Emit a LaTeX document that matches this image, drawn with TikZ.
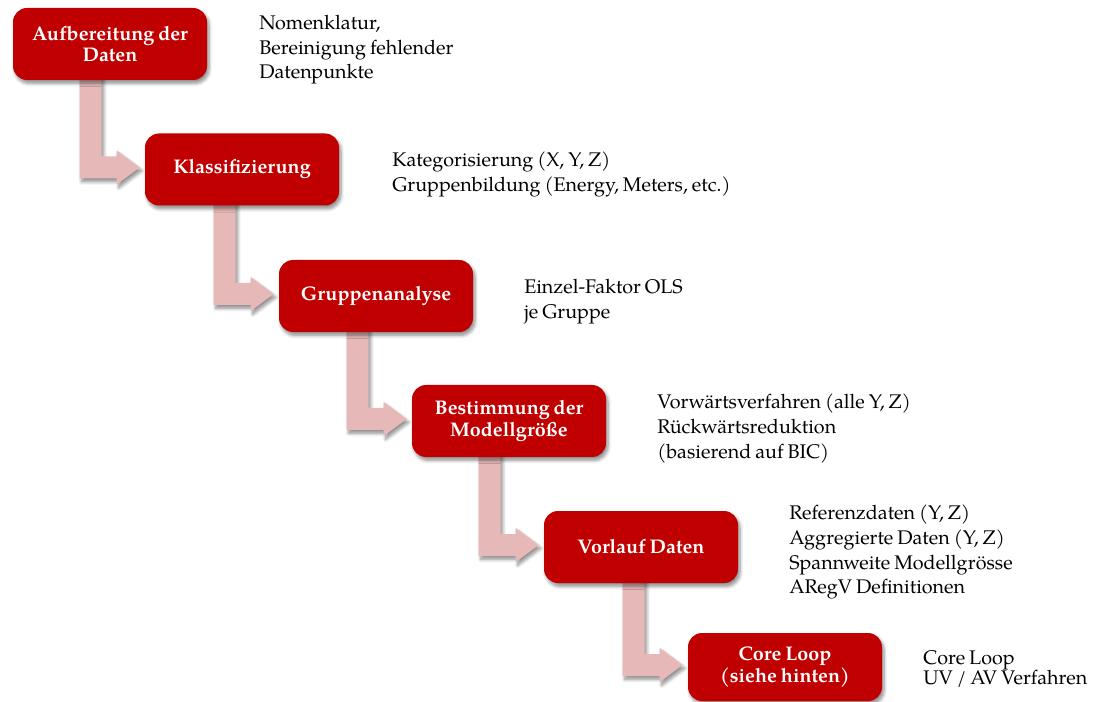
\documentclass[tikz,border=0pt]{standalone}
\usepackage{fontspec}
\setmainfont[WordSpace=0.8]{TeX Gyre Pagella}
\usetikzlibrary{calc,shadows.blur}
\definecolor{boxred}{HTML}{C00000}
\definecolor{arrowpink}{HTML}{E6B9B8}
\pgfdeclarelayer{behind}
\pgfsetlayers{behind,main}

% bent block arrow: leaves the first box downwards, turns right into the second
\newcommand\bentarrow[2]{%
  \fill[flow] let \p1=(#1.center), \p2=(#2.west) in
    (\x2-48.75pt,\y1) -- (\x2-48.75pt,\y2-6.75pt) -- (\x2-21pt,\y2-6.75pt)
    -- (\x2-21pt,\y2-11.25pt) -- (\x2-3.75pt,\y2+1.5pt)
    -- (\x2-21pt,\y2+14.25pt) -- (\x2-21pt,\y2+9.75pt)
    -- (\x2-32.25pt,\y2+9.75pt) -- (\x2-32.25pt,\y1) -- cycle;}

\begin{document}
\begin{tikzpicture}[x=0.75pt,y=-0.75pt,
  softshadow/.style={blur shadow={shadow xshift=1.5pt, shadow yshift=-2.5pt,
      shadow blur steps=6, shadow opacity=45, shadow blur radius=2.5pt}},
  stepbox/.style={fill=boxred, rounded corners=10.5pt, minimum width=145.5pt,
      minimum height=54pt, text=white, align=center, inner sep=0pt,
      font=\fontsize{14.8}{16.2}\selectfont\bfseries, softshadow},
  flow/.style={fill=arrowpink, softshadow},
  note/.style={anchor=north west, align=left, inner sep=0pt,
      font=\fontsize{14.8}{18.4}\selectfont}]
\useasboundingbox (0,0) rectangle (1097,702);

% process steps
\node[stepbox] (s1) at (110,44)    {Aufbereitung der\\Daten};
\node[stepbox] (s2) at (242,169.5) {Klassifizierung};
\node[stepbox] (s3) at (376,296)   {Gruppenanalyse};
\node[stepbox] (s4) at (509,421)   {Bestimmung der\\Modellgröße};
\node[stepbox] (s5) at (641,547)   {Vorlauf Daten};
\node[stepbox, minimum height=51pt] (s6) at (785,667) {Core Loop\\(siehe hinten)};

% arrows behind the boxes
\begin{pgfonlayer}{behind}
\bentarrow{s1}{s2}
\bentarrow{s2}{s3}
\bentarrow{s3}{s4}
\bentarrow{s4}{s5}
\bentarrow{s5}{s6}
\end{pgfonlayer}

% descriptions
\node[note] (n1) at (259,15)  {Nomenklatur,\\Bereinigung fehlender\\Datenpunkte};
\node[note] (n2) at (392,152) {Kategorisierung (X, Y, Z)\\Gruppenbildung (Energy, Meters, etc.)};
\node[note] (n3) at (524,279) {Einzel-Faktor OLS\\je Gruppe};
\node[note] (n4) at (657,394) {Vorwärtsverfahren (alle Y, Z)\\Rückwärtsreduktion\\(basierend auf BIC)};
\node[note] (n5) at (789,505) {Referenzdaten (Y, Z)\\Aggregierte Daten (Y, Z)\\Spannweite Modellgrösse\\ARegV Definitionen};
\node[note, font=\fontsize{14.8}{15}\selectfont] (n6) at (923,650) {Core Loop\\UV / AV Verfahren};
\end{tikzpicture}
\end{document}
